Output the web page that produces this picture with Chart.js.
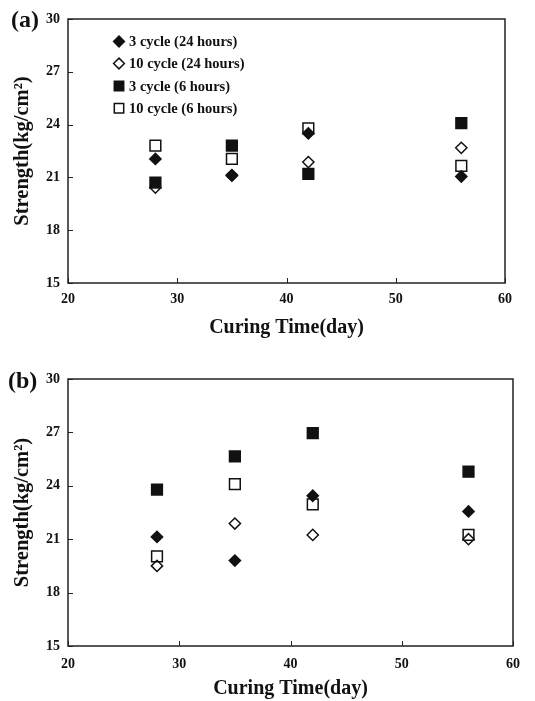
<!DOCTYPE html>
<html>
<head>
<meta charset="utf-8">
<script src="https://cdn.jsdelivr.net/npm/chart.js@4/dist/chart.umd.min.js"></script>
<style>
  body { margin: 0; background: #fff; }
  canvas { display: block; }
</style>
</head>
<body>
<canvas id="chartA" width="535" height="340"></canvas>
<canvas id="chartB" width="535" height="361"></canvas>
<script>
// curing days
const days = [28, 35, 42, 56];
const seriesNames = ['3 cycle (24 hours)', '10 cycle (24 hours)', '3 cycle (6 hours)', '10 cycle (6 hours)'];

// panel (a)
const a3cycle24 = [22.05, 21.13, 23.5, 21.05];
const a10cycle24 = [20.42, 21.1, 21.87, 22.68];
const a3cycle6 = [20.71, 22.81, 21.2, 24.08];
const a10cycle6 = [22.81, 22.05, 23.78, 21.66];

// panel (b)
const b3cycle24 = [21.13, 19.8, 23.44, 22.56];
const b10cycle24 = [19.5, 21.88, 21.24, 21.0];
const b3cycle6 = [23.79, 25.65, 26.96, 24.79];
const b10cycle6 = [20.03, 24.09, 22.95, 21.24];

const xTicks = [20, 30, 40, 50, 60];
const yTicks = [15, 18, 21, 24, 27, 30];

const serif = '"Liberation Serif", "Times New Roman", serif';
const ink = '#111';

const markerStyles = [
    { pointStyle: 'rectRot', radius: 5.6, fill: ink },
    { pointStyle: 'rectRot', radius: 5.6, fill: 'rgba(255,255,255,0)' },
    { pointStyle: 'rect', radius: 7.6, fill: ink },
    { pointStyle: 'rect', radius: 7.6, fill: 'rgba(255,255,255,0)' }
];

function toPoints(values) {
    return days.map((d, i) => ({ x: d, y: values[i] }));
}

// draws the box, inward ticks, panel letter and (optionally) the legend
const framePlugin = {
    id: 'frame',
    afterDraw(chart, args, opts) {
        const ctx = chart.ctx;
        const area = chart.chartArea;
        const xs = chart.scales.x, ys = chart.scales.y;
        ctx.save();
        ctx.strokeStyle = '#222';
        ctx.lineWidth = 1.5;
        ctx.strokeRect(area.left, area.top, area.right - area.left, area.bottom - area.top);
        ctx.lineWidth = 1;
        ctx.beginPath();
        xTicks.forEach(v => {
            const px = Math.round(xs.getPixelForValue(v)) + 0.5;
            ctx.moveTo(px, area.bottom);
            ctx.lineTo(px, area.bottom - 5);
        });
        yTicks.forEach(v => {
            const py = Math.round(ys.getPixelForValue(v)) + 0.5;
            ctx.moveTo(area.left, py);
            ctx.lineTo(area.left + 5, py);
        });
        ctx.stroke();

        ctx.fillStyle = ink;
        ctx.font = 'bold 24px ' + serif;
        ctx.textAlign = 'left';
        ctx.textBaseline = 'middle';
        ctx.fillText(opts.letter, opts.letterX, opts.letterY);

        if (opts.legend) {
            const rows = [41.5, 63.5, 86, 108.3];
            ctx.font = 'bold 14.5px ' + serif;
            chart.data.datasets.forEach((ds, i) => {
                const y = rows[i];
                const x = 119;
                const m = markerStyles[i];
                ctx.beginPath();
                if (m.pointStyle === 'rect') {
                    ctx.rect(x - 4.7, y - 4.7, 9.4, 9.4);
                } else {
                    ctx.moveTo(x, y - 5.4);
                    ctx.lineTo(x + 5.4, y);
                    ctx.lineTo(x, y + 5.4);
                    ctx.lineTo(x - 5.4, y);
                    ctx.closePath();
                }
                ctx.lineWidth = 1.5;
                ctx.strokeStyle = ink;
                if (m.fill === ink) { ctx.fillStyle = ink; ctx.fill(); }
                ctx.stroke();
                ctx.fillStyle = ink;
                ctx.fillText(ds.label, 129, y + 1);
            });
        }
        ctx.restore();
    }
};

function createChart(id, values, cfg) {
    const ctx = document.getElementById(id).getContext('2d');
    return new Chart(ctx, {
        type: 'scatter',
        data: {
            datasets: values.map((v, i) => ({
                label: seriesNames[i],
                data: toPoints(v),
                pointStyle: markerStyles[i].pointStyle,
                pointRadius: markerStyles[i].radius,
                pointHoverRadius: markerStyles[i].radius,
                backgroundColor: markerStyles[i].fill,
                borderColor: ink,
                pointBorderWidth: 1.5
            }))
        },
        options: {
            responsive: false,
            animation: false,
            layout: { padding: { top: cfg.top, right: cfg.right, left: 0, bottom: 0 } },
            plugins: {
                legend: { display: false },
                tooltip: { enabled: false },
                frame: { letter: cfg.letter, letterX: cfg.letterX, letterY: cfg.letterY, legend: cfg.legend }
            },
            scales: {
                x: {
                    type: 'linear',
                    min: 20, max: 60,
                    afterBuildTicks: s => { s.ticks = xTicks.map(v => ({ value: v })); },
                    afterFit: s => { s.height = cfg.xHeight; },
                    grid: { display: false, drawTicks: false },
                    border: { display: false },
                    ticks: {
                        color: ink,
                        padding: cfg.xTickPad,
                        maxRotation: 0,
                        font: { family: serif, size: 14, weight: 'bold' }
                    },
                    title: {
                        display: true,
                        text: 'Curing Time(day)',
                        color: ink,
                        padding: { top: 0, bottom: 0 },
                        font: { family: serif, size: 20, weight: 'bold' }
                    }
                },
                y: {
                    type: 'linear',
                    min: 15, max: 30,
                    afterBuildTicks: s => { s.ticks = yTicks.map(v => ({ value: v })); },
                    afterFit: s => { s.width = 68; },
                    grid: { display: false, drawTicks: false },
                    border: { display: false },
                    ticks: {
                        color: ink,
                        padding: 8,
                        font: { family: serif, size: 14, weight: 'bold' }
                    },
                    title: {
                        display: true,
                        text: 'Strength(kg/cm²)',
                        color: ink,
                        padding: { top: 10, bottom: 0 },
                        font: { family: serif, size: 20.5, weight: 'bold' }
                    }
                }
            }
        },
        plugins: [framePlugin]
    });
}

window.onload = function() {
    createChart('chartA', [a3cycle24, a10cycle24, a3cycle6, a10cycle6],
        { top: 19, right: 30, xHeight: 57, xTickPad: 8, letter: '(a)', letterX: 11, letterY: 21, legend: true });
    createChart('chartB', [b3cycle24, b10cycle24, b3cycle6, b10cycle6],
        { top: 39, right: 22, xHeight: 55, xTickPad: 10, letter: '(b)', letterX: 8, letterY: 42, legend: false });
};
</script>
</body>
</html>
